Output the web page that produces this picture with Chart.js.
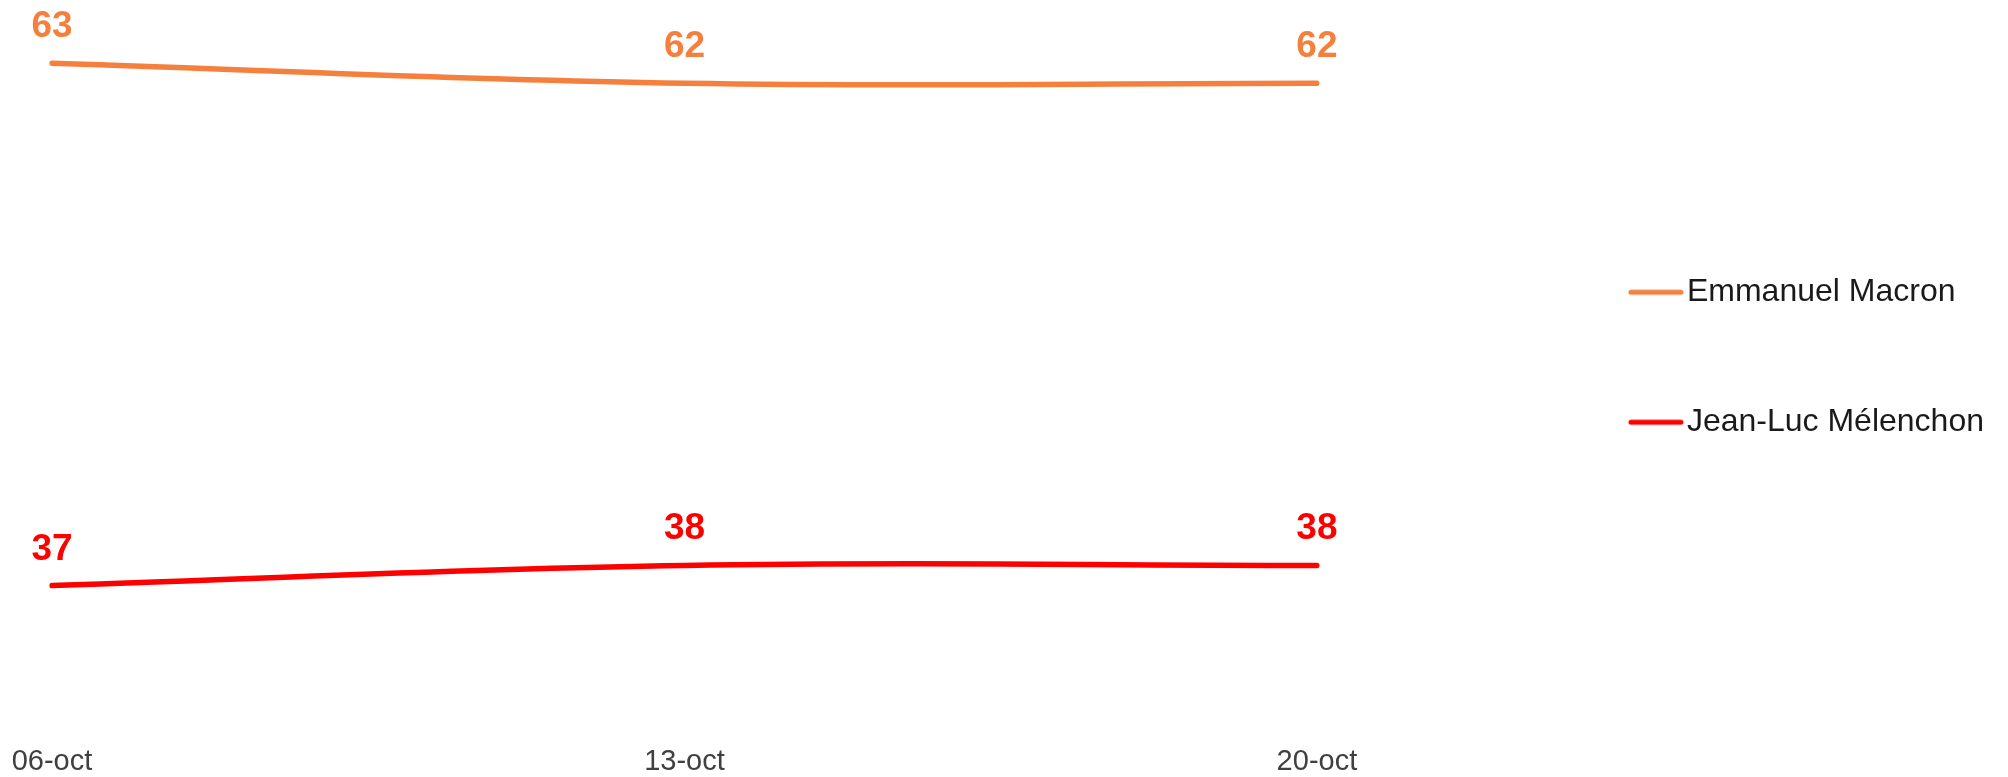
<!DOCTYPE html>
<html>
<head>
<meta charset="utf-8">
<script src="https://cdn.jsdelivr.net/npm/chart.js@4.4.1/dist/chart.umd.min.js"></script>
<style>
  html, body { margin: 0; padding: 0; background: #ffffff; }
  #wrap { width: 2008px; height: 777px; }
</style>
</head>
<body>
<div id="wrap"><canvas id="lineChart" width="2008" height="777"></canvas></div>
<script>
var dates = ["06-oct", "13-oct", "20-oct"];
var macronValues = [63, 62, 62];
var melenchonValues = [37, 38, 38];
var seriesNames = ["Emmanuel Macron", "Jean-Luc Mélenchon"];
var seriesColors = ["#F5803E", "#FF0000"];

var yMin = 30;
var yMax = 65;

// legend marker: a short line sitting just left of the label text
function legendLine(color) {
    var c = document.createElement("canvas");
    c.width = 300;
    c.height = 10;
    var g = c.getContext("2d");
    g.strokeStyle = color;
    g.lineWidth = 5;
    g.lineCap = "round";
    g.beginPath();
    g.moveTo(238, 5);
    g.lineTo(288, 5);
    g.stroke();
    return c;
}

// value labels above each point
var valueLabels = {
    id: "valueLabels",
    afterDatasetsDraw: function (chart) {
        var ctx = chart.ctx;
        ctx.save();
        ctx.font = "bold 37px 'Liberation Sans', Arial, sans-serif";
        ctx.textAlign = "center";
        ctx.textBaseline = "alphabetic";
        chart.data.datasets.forEach(function (ds, i) {
            var meta = chart.getDatasetMeta(i);
            ctx.fillStyle = ds.borderColor;
            meta.data.forEach(function (pt, j) {
                ctx.fillText(ds.data[j], pt.x, pt.y - 26);
            });
        });
        ctx.restore();
    }
};

var chartCtx = document.getElementById("lineChart").getContext("2d");

var newChart = new Chart(chartCtx, {
    type: "line",
    data: {
        labels: dates,
        datasets: [{
            label: seriesNames[0],
            data: macronValues,
            borderColor: seriesColors[0],
            backgroundColor: seriesColors[0],
            borderWidth: 5.5,
            borderCapStyle: "round",
            tension: 0.4,
            pointRadius: 0,
            pointHoverRadius: 0,
            pointStyle: legendLine(seriesColors[0])
        }, {
            label: seriesNames[1],
            data: melenchonValues,
            borderColor: seriesColors[1],
            backgroundColor: seriesColors[1],
            borderWidth: 5.5,
            borderCapStyle: "round",
            tension: 0.4,
            pointRadius: 0,
            pointHoverRadius: 0,
            pointStyle: legendLine(seriesColors[1])
        }]
    },
    options: {
        responsive: false,
        animation: false,
        layout: {
            padding: { top: 23, left: 52, right: 14, bottom: -20 }
        },
        scales: {
            x: {
                grid: { display: false, drawTicks: false },
                border: { display: false },
                ticks: {
                    color: "#404040",
                    padding: 18,
                    maxRotation: 0,
                    font: { family: "'Liberation Sans', Arial, sans-serif", size: 29 }
                },
                afterFit: function (scale) {
                    // let the layout padding decide the left edge
                    scale.paddingLeft = 0;
                }
            },
            y: {
                display: false,
                min: yMin,
                max: yMax
            }
        },
        plugins: {
            tooltip: { enabled: false },
            legend: {
                position: "right",
                align: "start",
                title: {
                    display: true,
                    text: "",
                    font: { size: 1 },
                    padding: { top: 154, bottom: 0 }
                },
                labels: {
                    usePointStyle: true,
                    pointStyleWidth: 256,
                    padding: 98,
                    color: "#1a1a1a",
                    font: { family: "'Liberation Sans', Arial, sans-serif", size: 32 }
                }
            }
        }
    },
    plugins: [valueLabels]
});
</script>
</body>
</html>
